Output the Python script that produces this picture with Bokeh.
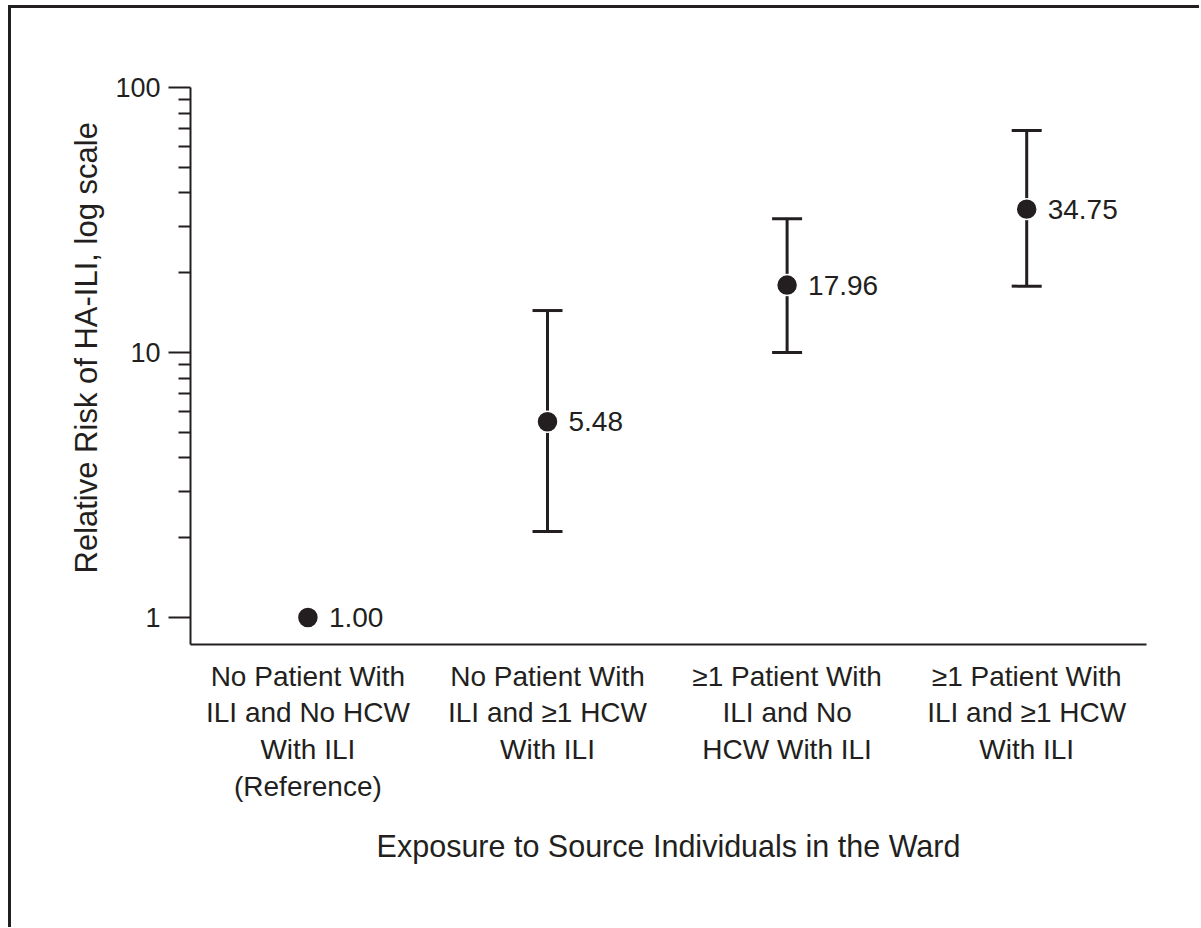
from bokeh.plotting import figure
from bokeh.models import (ColumnDataSource, FixedTicker, Range1d, LabelSet, Whisker,
                          TeeHead, BasicTickFormatter, Title)
from bokeh.core.properties import value
from bokeh.embed import file_html
from bokeh.resources import INLINE

# ---- data ----
categories = [
    "No Patient With\nILI and No HCW\nWith ILI\n(Reference)",
    "No Patient With\nILI and \u22651 HCW\nWith ILI",
    "\u22651 Patient With\nILI and No\nHCW With ILI",
    "\u22651 Patient With\nILI and \u22651 HCW\nWith ILI",
]
relative_risk = [1.00, 5.48, 17.96, 34.75]
ci_lower = [None, 2.11, 10.0, 17.8]
ci_upper = [None, 14.4, 32.0, 68.8]
y_ticks = [1, 10, 100]
y_tick_labels = ["1", "10", "100"]
y_title = "Relative Risk of HA-ILI, log scale"
x_title = "Exposure to Source Individuals in the Ward"

FONT = "Liberation Sans"
INK = "#231f20"

xs = list(range(len(categories)))
src = ColumnDataSource(dict(x=xs, y=relative_risk,
                            lbl=["%.2f" % v for v in relative_risk]))
ci_idx = [i for i in xs if ci_lower[i] is not None]
ci_src = ColumnDataSource(dict(x=ci_idx,
                               lo=[ci_lower[i] for i in ci_idx],
                               hi=[ci_upper[i] for i in ci_idx]))

p = figure(width=1188, height=919, y_axis_type="log",
           x_range=Range1d(-0.49, 3.5), y_range=Range1d(0.791, 100),
           output_backend="svg", toolbar_location=None,
           frame_width=956, frame_height=557,
           min_border_left=179, min_border_top=79,
           min_border_right=53, min_border_bottom=283)
p.outline_line_color = None
p.xgrid.visible = False
p.ygrid.visible = False
p.styles = {"border-left": "3px solid #231f20", "border-top": "3px solid #231f20",
            "margin-left": "8px", "margin-top": "5px"}

w = Whisker(source=ci_src, base="x", lower="lo", upper="hi",
            line_color=INK, line_width=3,
            upper_head=TeeHead(size=30, line_color=INK, line_width=3),
            lower_head=TeeHead(size=30, line_color=INK, line_width=3))
p.add_layout(w)

p.scatter("x", "y", source=src, size=21, fill_color=INK, line_color="white",
          line_width=1.5)

labels = LabelSet(x="x", y="y", text="lbl", source=src, x_offset=21,
                  text_baseline="middle", text_font=value(FONT),
                  text_font_size="28px", text_color=INK)
p.add_layout(labels)

# y axis
ya = p.yaxis[0]
minor = [m * d for d in (1, 10) for m in range(2, 10)]
ya.ticker = FixedTicker(ticks=y_ticks, minor_ticks=minor)
ya.formatter = BasicTickFormatter()
ya.major_label_overrides = {t: l for t, l in zip(y_ticks, y_tick_labels)}
ya.major_label_text_font = FONT
ya.major_label_text_font_size = "27px"
ya.major_label_text_color = INK
ya.major_label_standoff = 8
ya.major_tick_out = 22
ya.major_tick_in = 0
ya.minor_tick_out = 12
ya.minor_tick_in = 0
ya.axis_line_width = 2
ya.axis_line_color = INK
ya.major_tick_line_width = 2
ya.major_tick_line_color = INK
ya.minor_tick_line_width = 2
ya.minor_tick_line_color = INK

yt = Title(text=y_title, align="left", offset=71, standoff=17,
           text_font=FONT, text_font_size="31px", text_font_style="normal",
           text_color=INK)
p.add_layout(yt, "left")

# x axis
xa = p.xaxis[0]
xa.ticker = FixedTicker(ticks=xs, minor_ticks=[])
xa.major_label_overrides = {i: c for i, c in zip(xs, categories)}
xa.axis_label = x_title
xa.axis_label_text_font = FONT
xa.axis_label_text_font_size = "30.5px"
xa.axis_label_text_font_style = "normal"
xa.axis_label_text_color = INK
xa.axis_label_standoff = 24
xa.major_label_text_font = FONT
xa.major_label_text_font_size = "28px"
xa.major_label_text_color = INK
xa.major_label_text_line_height = 1.19
xa.major_label_standoff = 16
xa.major_tick_out = 0
xa.major_tick_in = 0
xa.minor_tick_out = 0
xa.minor_tick_in = 0
xa.axis_line_width = 2
xa.axis_line_color = INK

open("out.html", "w").write(file_html(p, INLINE))
